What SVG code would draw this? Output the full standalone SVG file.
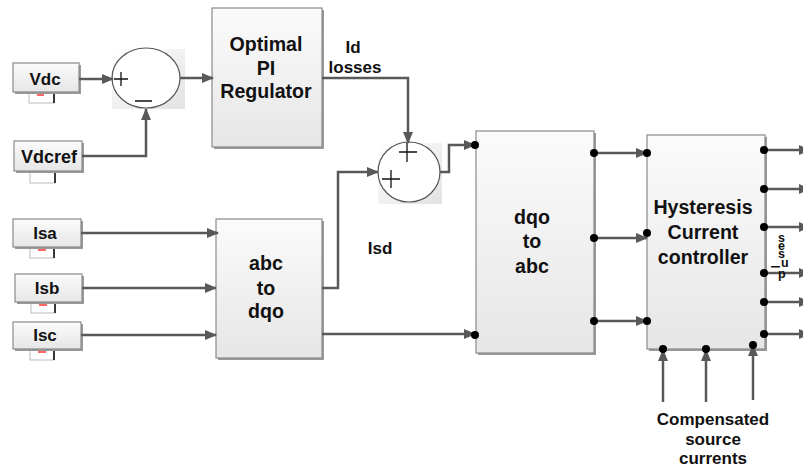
<svg xmlns="http://www.w3.org/2000/svg" width="803" height="470" viewBox="0 0 803 470">
<defs>
<linearGradient id="g" x1="0" y1="0" x2="0" y2="1"><stop offset="0" stop-color="#fbfbfb"/><stop offset="1" stop-color="#e6e6e6"/></linearGradient>
<linearGradient id="gs" x1="0" y1="0" x2="1" y2="1"><stop offset="0" stop-color="#ffffff"/><stop offset="1" stop-color="#e2e2e2"/></linearGradient>
<marker id="ah" markerWidth="12" markerHeight="10" refX="11" refY="5" orient="auto" markerUnits="userSpaceOnUse"><path d="M0,0 L12,5 L0,10 Z" fill="#595959"/></marker>
</defs>
<style>
.blk{fill:url(#g);stroke:#8a8a8a;stroke-width:1.2}
.sh{fill:#9a9a9a}
.t{font-family:"Liberation Sans",Arial,sans-serif;font-weight:bold;fill:#111;text-anchor:middle}
.bt{font-size:19.6px}
.it{font-size:17px}
.w{fill:none;stroke:#595959;stroke-width:2.5}
.a{marker-end:url(#ah)}
.dot{fill:#000}
.pm{stroke:#111;stroke-width:1.3;fill:none}
.sb{fill:#fff;stroke:#bbb;stroke-width:1}
</style>
<rect width="803" height="470" fill="#fff"/>

<g id="Vdc">
<rect x="29" y="92" width="25" height="11" class="sb"/><line x1="54" y1="92" x2="54" y2="103" stroke="#000" stroke-width="1.5"/><line x1="37" y1="95" x2="44" y2="95" stroke="#f66" stroke-width="2"/>
<rect x="15" y="65" width="66" height="29" class="sh"/><rect x="13" y="63" width="66" height="29" class="blk"/>
<text x="45" y="85" class="t it">Vdc</text>
</g>
<g id="Vdcref">
<rect x="30" y="172" width="25" height="11" class="sb"/><line x1="55" y1="172" x2="55" y2="183" stroke="#000" stroke-width="1.5"/>
<rect x="16" y="143" width="68" height="30" class="sh"/><rect x="14" y="141" width="68" height="30" class="blk"/>
<text x="49" y="163" class="t" font-size="18">Vdcref</text>
</g>
<g id="Isa">
<rect x="30" y="248" width="24" height="10" class="sb"/><line x1="54" y1="248" x2="54" y2="258" stroke="#000" stroke-width="1.5"/><line x1="38" y1="250" x2="46" y2="250" stroke="#f66" stroke-width="2"/>
<rect x="15" y="221" width="68" height="28" class="sh"/><rect x="13" y="219" width="68" height="28" class="blk"/>
<text x="45" y="239" class="t it">Isa</text>
</g>
<g id="Isb">
<rect x="31" y="303" width="24" height="10" class="sb"/><line x1="55" y1="303" x2="55" y2="313" stroke="#000" stroke-width="1.5"/><line x1="39" y1="305" x2="47" y2="305" stroke="#f66" stroke-width="2"/>
<rect x="17" y="276" width="67" height="28" class="sh"/><rect x="15" y="274" width="67" height="28" class="blk"/>
<text x="47" y="294" class="t it">Isb</text>
</g>
<g id="Isc">
<rect x="30" y="350" width="24" height="10" class="sb"/><line x1="54" y1="350" x2="54" y2="360" stroke="#000" stroke-width="1.5"/><line x1="38" y1="352" x2="46" y2="352" stroke="#f66" stroke-width="2"/>
<rect x="15" y="324" width="68" height="27" class="sh"/><rect x="13" y="322" width="68" height="27" class="blk"/>
<text x="45" y="341" class="t it">Isc</text>
</g>

<g id="sum1">
<rect x="112" y="49" width="73" height="60" fill="url(#gs)"/>
<ellipse cx="146" cy="78" rx="34" ry="30" fill="#fff" stroke="#555" stroke-width="1.2"/>
<path class="pm" d="M114,79 H128 M121,72 V86 M135,101 H152"/>
</g>
<g id="PI">
<rect x="214" y="10" width="110" height="139" class="sh"/><rect x="212" y="8" width="110" height="139" class="blk"/>
<text class="t bt" x="266" y="51">Optimal</text>
<text class="t bt" x="266" y="75">PI</text>
<text class="t bt" x="266" y="98">Regulator</text>
</g>
<g id="sum2">
<rect x="378" y="143" width="64" height="61" fill="url(#gs)"/>
<ellipse cx="409" cy="172" rx="31" ry="30" fill="#fff" stroke="#555" stroke-width="1.2"/>
<path class="pm" d="M399,152 H417 M407,143 V162 M382,179 H400 M391,170 V188"/>
</g>
<g id="abc2dqo">
<rect x="218" y="221" width="106" height="139" class="sh"/><rect x="216" y="219" width="106" height="139" class="blk"/>
<text class="t bt" x="266" y="270">abc</text>
<text class="t bt" x="266" y="295">to</text>
<text class="t bt" x="266" y="318">dqo</text>
</g>
<g id="dqo2abc">
<rect x="478" y="133" width="118" height="222" class="sh"/><rect x="476" y="131" width="118" height="222" class="blk"/>
<text class="t bt" x="532" y="224">dqo</text>
<text class="t bt" x="532" y="248">to</text>
<text class="t bt" x="532" y="273">abc</text>
</g>
<g id="hyst">
<rect x="649" y="137" width="118" height="214" class="sh"/><rect x="647" y="135" width="118" height="214" class="blk"/>
<text class="t bt" x="703" y="214">Hysteresis</text>
<text class="t bt" x="703" y="239">Current</text>
<text class="t bt" x="703" y="264">controller</text>
</g>

<g id="connectors">
<path class="w a" d="M79,79 H113"/>
<path class="w a" d="M82,156 H146 V109"/>
<path class="w a" d="M180,78 H213"/>
<path class="w a" d="M322,78 H408 V143"/>
<path class="w a" d="M81,233 H218"/>
<path class="w a" d="M82,288 H216"/>
<path class="w a" d="M81,335 H216"/>
<path class="w a" d="M322,288 H338 V172 H378"/>
<path class="w a" d="M322,334 H475"/>
<path class="w a" d="M440,172 H449 V145 H475"/>
<path class="w a" d="M594,153 H647"/>
<path class="w a" d="M594,238 H647"/>
<path class="w a" d="M594,321 H647"/>
<path class="w a" d="M765,150 H810"/>
<path class="w a" d="M765,189 H810"/>
<path class="w a" d="M765,227 H810"/>
<path class="w a" d="M765,273 H810"/>
<path class="w a" d="M765,302 H810"/>
<path class="w a" d="M765,334 H810"/>
<path class="w a" d="M663,402 V350"/>
<path class="w a" d="M706,402 V350"/>
<path class="w a" d="M753,400 V345"/>
<circle class="dot" cx="475" cy="145" r="4"/>
<circle class="dot" cx="475" cy="335" r="4"/>
<circle class="dot" cx="594" cy="153" r="4"/>
<circle class="dot" cx="594" cy="238" r="4"/>
<circle class="dot" cx="594" cy="321" r="4"/>
<circle class="dot" cx="647" cy="153" r="4"/>
<circle class="dot" cx="647" cy="233" r="4"/>
<circle class="dot" cx="647" cy="321" r="4"/>
<circle class="dot" cx="764" cy="150" r="4"/>
<circle class="dot" cx="764" cy="189" r="4"/>
<circle class="dot" cx="764" cy="227" r="4"/>
<circle class="dot" cx="764" cy="273" r="4"/>
<circle class="dot" cx="764" cy="302" r="4"/>
<circle class="dot" cx="764" cy="334" r="4"/>
<circle class="dot" cx="663" cy="349" r="4"/>
<circle class="dot" cx="706" cy="349" r="4"/>
<circle class="dot" cx="753" cy="345" r="4"/>
</g>

<g id="labels">
<text class="t it" x="353" y="53">Id</text>
<text class="t it" x="355" y="73">losses</text>
<text class="t it" x="380" y="254">Isd</text>
<text class="t it" x="713" y="425">Compensated</text>
<text class="t it" x="713" y="445">source</text>
<text class="t it" x="713" y="464">currents</text>
<text class="t" font-size="12.5" style="text-anchor:start" x="778 781 771 778 778 778" y="278 267 265 258 250 242" rotate="0 0 90 0 0 0">pulses</text>
</g>
</svg>
